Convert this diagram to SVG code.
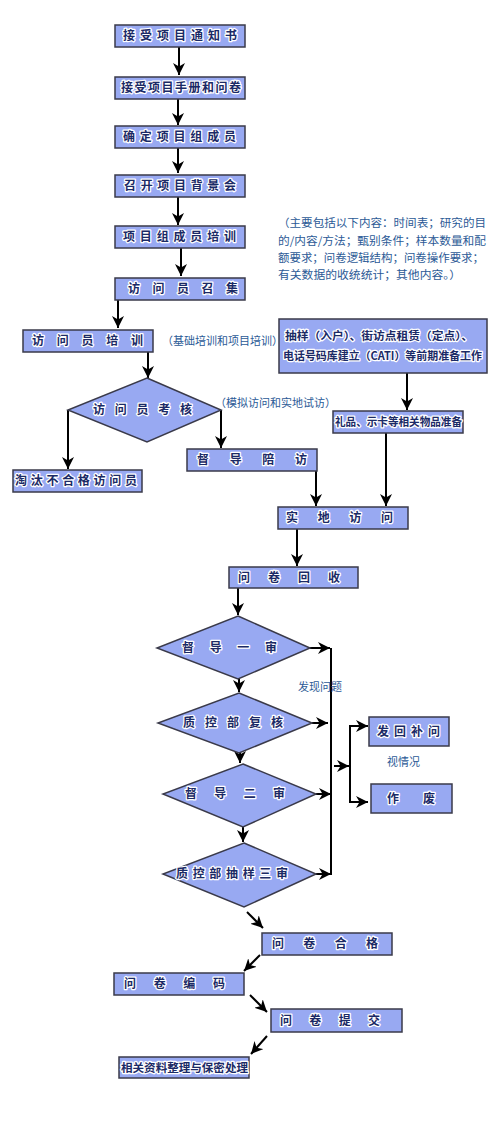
<svg xmlns="http://www.w3.org/2000/svg" width="500" height="1136" viewBox="0 0 500 1136">
<style>
.bx{fill:#98a9f2;stroke:#3a3a4a;stroke-width:1.5}
.t{font-family:"Noto Sans CJK SC","Noto Sans CJK TC",sans-serif;font-size:12px;font-weight:bold;fill:#1b2a66;stroke:#ffffff;stroke-width:2.5;stroke-linejoin:round;paint-order:stroke}
.ts{font-family:"Noto Sans CJK SC","Noto Sans CJK TC",sans-serif;font-size:11px;font-weight:bold;fill:#1b2a66;stroke:#ffffff;stroke-width:2.5;stroke-linejoin:round;paint-order:stroke}
.n{font-family:"Noto Sans CJK SC","Noto Sans CJK TC",sans-serif;font-size:11px;fill:#2c5a96}
.c line,.c polyline{stroke:#000;stroke-width:2;fill:none}
</style>
<defs>
<marker id="ah" viewBox="0 0 10 10" refX="10" refY="5" markerWidth="12" markerHeight="12" markerUnits="userSpaceOnUse" orient="auto">
<path d="M0,0 L10,5 L0,10 L3,5 z" fill="#000"/>
</marker>
</defs>
<rect width="500" height="1136" fill="#ffffff"/>

<g class="c">
<line x1="179" y1="47" x2="179" y2="75" marker-end="url(#ah)"/>
<line x1="178" y1="99" x2="178" y2="125" marker-end="url(#ah)"/>
<line x1="178" y1="148" x2="178" y2="173" marker-end="url(#ah)"/>
<line x1="178" y1="197" x2="178" y2="225" marker-end="url(#ah)"/>
<line x1="181" y1="248" x2="181" y2="276" marker-end="url(#ah)"/>
<line x1="118" y1="300" x2="118" y2="328" marker-end="url(#ah)"/>
<line x1="148" y1="352" x2="148" y2="378" marker-end="url(#ah)"/>
<line x1="68" y1="410" x2="68" y2="469" marker-end="url(#ah)"/>
<line x1="221" y1="410" x2="221" y2="448" marker-end="url(#ah)"/>
<line x1="407" y1="373" x2="407" y2="410" marker-end="url(#ah)"/>
<line x1="386" y1="433" x2="386" y2="506" marker-end="url(#ah)"/>
<line x1="316" y1="471" x2="316" y2="506" marker-end="url(#ah)"/>
<line x1="297" y1="529" x2="297" y2="566" marker-end="url(#ah)"/>
<line x1="238" y1="588" x2="238" y2="615" marker-end="url(#ah)"/>
<line x1="310" y1="648" x2="330" y2="648" marker-end="url(#ah)"/>
<line x1="331" y1="648" x2="331" y2="875"/>
<line x1="239" y1="679" x2="239" y2="692" marker-end="url(#ah)"/>
<line x1="312" y1="723" x2="328" y2="723" marker-end="url(#ah)"/>
<line x1="240" y1="753" x2="240" y2="763" marker-end="url(#ah)"/>
<line x1="316" y1="794" x2="331" y2="794" marker-end="url(#ah)"/>
<line x1="243" y1="827" x2="243" y2="842" marker-end="url(#ah)"/>
<line x1="316" y1="874" x2="331" y2="874" marker-end="url(#ah)"/>
<line x1="334" y1="766" x2="349" y2="766" marker-end="url(#ah)"/>
<polyline points="367,726 350,726 350,802 367,802"/>
<line x1="350" y1="726" x2="368" y2="726" marker-end="url(#ah)"/>
<line x1="350" y1="802" x2="368" y2="802" marker-end="url(#ah)"/>
<line x1="247" y1="912" x2="263" y2="928" marker-end="url(#ah)"/>
<line x1="260" y1="955" x2="244" y2="971" marker-end="url(#ah)"/>
<line x1="250" y1="995" x2="267" y2="1012" marker-end="url(#ah)"/>
<line x1="267" y1="1036" x2="251" y2="1054" marker-end="url(#ah)"/>
</g>

<g id="n1"><rect class="bx" x="115" y="25" width="130" height="22"/><text class="t" x="123" y="40" textLength="114" lengthAdjust="spacing">接受项目通知书</text></g>
<g id="n2"><rect class="bx" x="115" y="77" width="130" height="22"/><text class="t" x="121" y="92" textLength="120" lengthAdjust="spacing">接受项目手册和问卷</text></g>
<g id="n3"><rect class="bx" x="115" y="126" width="130" height="22"/><text class="t" x="123" y="141" textLength="113" lengthAdjust="spacing">确定项目组成员</text></g>
<g id="n4"><rect class="bx" x="115" y="175" width="130" height="22"/><text class="t" x="124" y="190" textLength="112" lengthAdjust="spacing">召开项目背景会</text></g>
<g id="n5"><rect class="bx" x="115" y="226" width="130" height="22"/><text class="t" x="123" y="241" textLength="113" lengthAdjust="spacing">项目组成员培训</text></g>
<g id="n6"><rect class="bx" x="115" y="278" width="130" height="22"/><text class="t" x="128" y="293" textLength="110" lengthAdjust="spacing">访问员召集</text></g>
<g id="note1"><text class="n"><tspan x="278" y="227" textLength="208" lengthAdjust="spacingAndGlyphs">（主要包括以下内容：时间表；研究的目</tspan><tspan x="278" y="245" textLength="208" lengthAdjust="spacingAndGlyphs">的/内容/方法；甄别条件；样本数量和配</tspan><tspan x="278" y="262" textLength="206" lengthAdjust="spacingAndGlyphs">额要求；问卷逻辑结构；问卷操作要求；</tspan><tspan x="278" y="279" textLength="183" lengthAdjust="spacingAndGlyphs">有关数据的收统统计；其他内容。）</tspan></text></g>
<g id="n7"><rect class="bx" x="23" y="330" width="130" height="22"/><text class="t" x="32" y="345" textLength="111" lengthAdjust="spacing">访问员培训</text></g>
<g id="note2"><text class="n" x="162" y="345" font-size="10">（基础培训和项目培训）</text></g>
<g id="n8"><rect class="bx" x="279" y="319" width="208" height="54"/><text class="ts" x="285" y="340" textLength="188" lengthAdjust="spacingAndGlyphs">抽样（入户）、街访点租赁（定点）、</text><text class="ts" x="283" y="360" textLength="199" lengthAdjust="spacingAndGlyphs">电话号码库建立（CATI）等前期准备工作</text></g>
<g id="d1"><polygon class="bx" points="147,378 221,410 147,442 68,410"/><text class="t" x="93" y="414" textLength="99" lengthAdjust="spacing">访问员考核</text></g>
<g id="note3"><text class="n" x="215" y="407" font-size="10">（模拟访问和实地试访）</text></g>
<g id="n9"><rect class="bx" x="333" y="411" width="130" height="22"/><text class="ts" x="335" y="426" textLength="127" lengthAdjust="spacingAndGlyphs">礼品、示卡等相关物品准备</text></g>
<g id="n10"><rect class="bx" x="13" y="470" width="129" height="22"/><text class="t" x="15" y="485" textLength="122" lengthAdjust="spacing">淘汰不合格访问员</text></g>
<g id="n11"><rect class="bx" x="187" y="449" width="130" height="22"/><text class="t" x="197" y="464" textLength="110" lengthAdjust="spacing">督导陪访</text></g>
<g id="n12"><rect class="bx" x="278" y="507" width="130" height="22"/><text class="t" x="286" y="522" textLength="107" lengthAdjust="spacing">实地访问</text></g>
<g id="n13"><rect class="bx" x="229" y="567" width="129" height="21"/><text class="t" x="238" y="582" textLength="102" lengthAdjust="spacing">问卷回收</text></g>
<g id="d2"><polygon class="bx" points="238,616 310,648 238,679 157,648"/><text class="t" x="182" y="652" textLength="95" lengthAdjust="spacing">督导一审</text></g>
<g id="note4"><text class="n" x="298" y="691">发现问题</text></g>
<g id="d3"><polygon class="bx" points="239,693 312,723 239,753 158,723"/><text class="t" x="183" y="727" textLength="100" lengthAdjust="spacing">质控部复核</text></g>
<g id="n14"><rect class="bx" x="369" y="717" width="80" height="29"/><text class="t" x="377" y="736" textLength="63" lengthAdjust="spacing">发回补问</text></g>
<g id="note5"><text class="n" x="387" y="766">视情况</text></g>
<g id="n15"><rect class="bx" x="371" y="784" width="81" height="29"/><text class="t" x="387" y="803" textLength="48" lengthAdjust="spacing">作废</text></g>
<g id="d4"><polygon class="bx" points="243,764 316,794 243,827 163,794"/><text class="t" x="185" y="798" textLength="100" lengthAdjust="spacing">督导二审</text></g>
<g id="d5"><polygon class="bx" points="244,843 316,874 244,907 163,874"/><text class="t" x="176" y="878" textLength="112" lengthAdjust="spacing">质控部抽样三审</text></g>
<g id="n16"><rect class="bx" x="262" y="933" width="130" height="22"/><text class="t" x="272" y="948" textLength="106" lengthAdjust="spacing">问卷合格</text></g>
<g id="n17"><rect class="bx" x="114" y="973" width="130" height="22"/><text class="t" x="124" y="988" textLength="101" lengthAdjust="spacing">问卷编码</text></g>
<g id="n18"><rect class="bx" x="271" y="1009" width="131" height="23"/><text class="t" x="280" y="1025" textLength="100" lengthAdjust="spacing">问卷提交</text></g>
<g id="n19"><rect class="bx" x="119" y="1057" width="130" height="21"/><text class="ts" x="121" y="1072" textLength="127" lengthAdjust="spacingAndGlyphs">相关资料整理与保密处理</text></g>
</svg>
